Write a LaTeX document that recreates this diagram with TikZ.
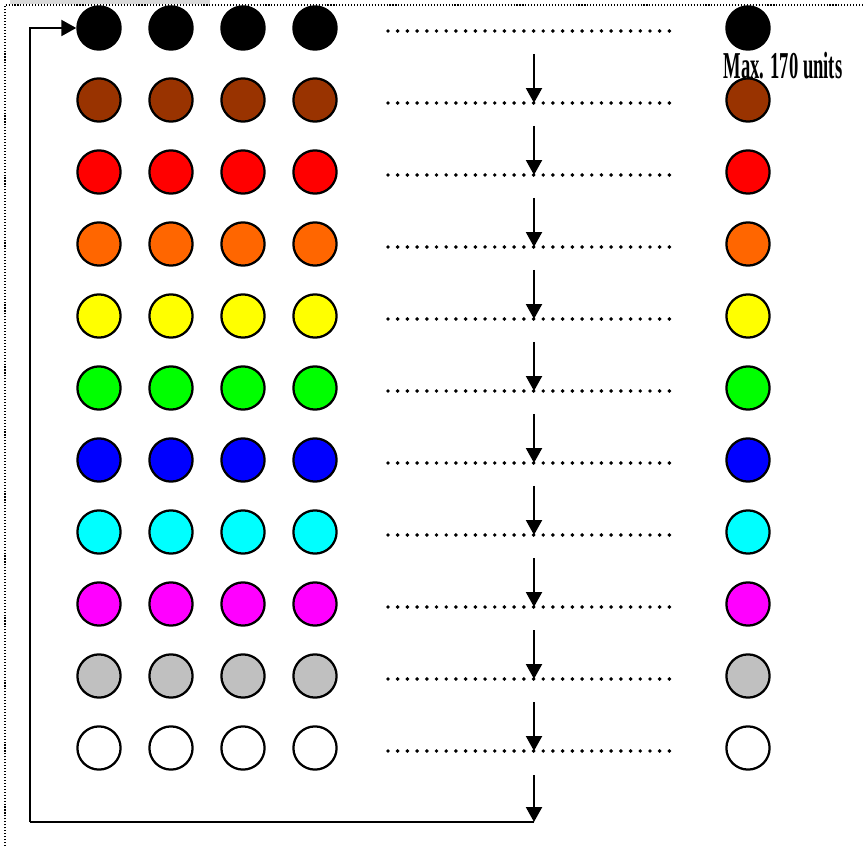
\documentclass[tikz,border=0pt]{standalone}
\usepackage{fontspec}
\setmainfont{Liberation Serif}
\usepackage{xcolor}
\usepackage{tikz}
\usetikzlibrary{arrows.meta,positioning}
\definecolor{ballbrown}{HTML}{993300}
\definecolor{ballred}{HTML}{FF0000}
\definecolor{ballorange}{HTML}{FF6600}
\definecolor{ballyellow}{HTML}{FFFF00}
\definecolor{ballgreen}{HTML}{00FF00}
\definecolor{ballblue}{HTML}{0000FF}
\definecolor{ballcyan}{HTML}{00FFFF}
\definecolor{ballmagenta}{HTML}{FF00FF}
\definecolor{ballgrey}{HTML}{C0C0C0}
\definecolor{bandgrey}{HTML}{D9D9D9}
\tikzset{
  ball/.style={circle,draw=black,line width=1.6pt,minimum size=1.08cm,inner sep=0pt},
  rowdots/.style={line width=2.8pt,line cap=round,dash pattern=on 0pt off 6.9pt},
  framedots/.style={line width=0.8pt,dash pattern=on 0.8pt off 1.3pt},
  flow/.style={line width=1.6pt,-{Triangle[length=10.6pt,width=11.3pt]}},
  plain/.style={line width=1.6pt}
}

\begin{document}
\begin{tikzpicture}[x=0.025cm,y=-0.025cm]
  \useasboundingbox (0,0) rectangle (863,846);
  % frame
  \fill[bandgrey] (10,0) rectangle (210,4);
  \draw[framedots] (5,846) -- (5,5) -- (863,5);
  % rows of balls, one colour per row
  \foreach \r/\col in {1/black,2/ballbrown,3/ballred,4/ballorange,5/ballyellow,6/ballgreen,7/ballblue,8/ballcyan,9/ballmagenta,10/ballgrey,11/white} {
    \pgfmathsetmacro\yy{28+(\r-1)*72}
    \foreach \c/\x in {1/99,2/171,3/243,4/315,5/748}
      \node[ball,fill=\col] (b\r-\c) at (\x,\yy) {};
    \coordinate (l\r) at (388,\yy+3);
    \coordinate (r\r) at (672,\yy+3);
    \coordinate (t\r) at (534,\yy+3);
    \coordinate (s\r) at (534,\yy-46);
    \draw[rowdots] (l\r) -- (r\r);
  }
  % arrows down between the rows
  \foreach \r in {2,...,11}
    \draw[flow] (s\r) -- (t\r);
  % back to the top
  \coordinate (s12) at (534,775);
  \coordinate (e12) at (534,822);
  \coordinate (corner) at (30,822);
  \draw[flow] (s12) -- (e12);
  \draw[plain] (e12) -- (corner);
  \draw[flow] (corner) |- (b1-1.west);
  \node[font=\bfseries\fontsize{27}{27}\selectfont,xscale=0.49] (lbl) at (783,66) {Max. 170 units};
\end{tikzpicture}
\end{document}
